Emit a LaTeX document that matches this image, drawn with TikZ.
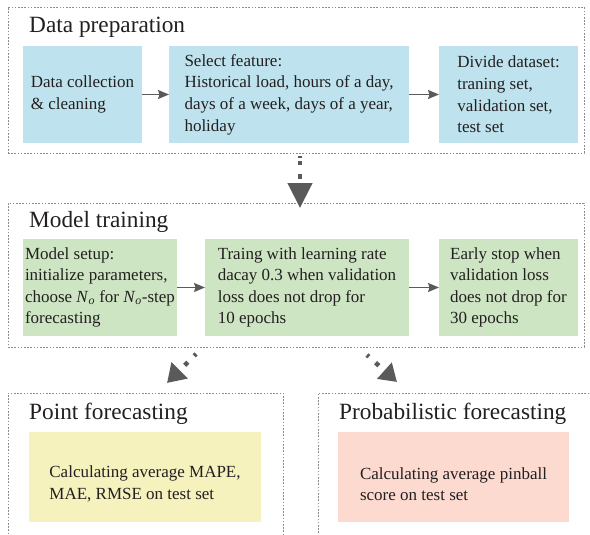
\documentclass[tikz,border=0pt]{standalone}
\usepackage{fontspec}
\setmainfont{Liberation Serif}
\usetikzlibrary{arrows.meta}

\definecolor{prepblue}{RGB}{190,227,238}
\definecolor{traingreen}{RGB}{205,229,195}
\definecolor{pointyellow}{RGB}{245,242,190}
\definecolor{probpink}{RGB}{252,218,208}
\definecolor{inkgray}{RGB}{35,31,32}
\definecolor{linkgray}{RGB}{90,90,90}

\newcommand{\No}{\textit{N}\textsubscript{\textit{o}}}
\newcommand{\lowstrut}{\rule{0pt}{26pt}}

\tikzset{
	panel/.style={draw=black!45, line width=0.9pt, dash pattern=on 1.6pt off 1.6pt, inner sep=0pt, outer sep=0pt},
	paneltitle/.style={anchor=base west, inner sep=0pt, text=inkgray, font=\fontsize{23.3}{28}\selectfont},
	stage/.style={inner sep=0pt, outer sep=0pt, align=left, text=inkgray, font=\fontsize{17}{21.6}\selectfont},
	link/.style={draw=linkgray, line width=1.5pt, -{Stealth[length=11pt 0,width=9pt 0,inset=1.5pt]}},
	bigdots/.style={draw=linkgray, line width=4.5pt, dash pattern=#1}
}

\begin{document}
\begin{tikzpicture}[x=1pt,y=-1pt]
	\clip (0,0) rectangle (590,535);

	% dashed panels
	\node[panel, minimum width=576pt, minimum height=146pt] (prep) at (296,80) {};
	\node[panel, minimum width=576pt, minimum height=144pt] (train) at (296,275) {};
	\node[panel, minimum width=275pt, minimum height=152pt] (point) at (145.5,469) {};
	\node[panel, minimum width=282pt, minimum height=152pt] (prob) at (459,469) {};

	\node[paneltitle] (preptitle) at (29,33) {Data preparation};
	\node[paneltitle] (traintitle) at (29,227) {Model training};
	\node[paneltitle] (pointtitle) at (29,419) {Point forecasting};
	\node[paneltitle] (probtitle) at (339,419) {Probabilistic forecasting};

	% data preparation
	\node[stage, fill=prepblue, minimum width=119pt, minimum height=97pt] (collect) at (82.5,94.5) {Data collection\\\& cleaning};
	\node[stage, fill=prepblue, minimum width=240pt, minimum height=97pt] (feature) at (289,94.5) {Select feature:\\Historical load, hours of a day,\\days of a week, days of a year,\\holiday};
	\node[stage, fill=prepblue, minimum width=139pt, minimum height=97pt] (divide) at (508.5,94.5) {Divide dataset:\\traning set,\\validation set,\\test set};
	\draw[link] (collect) -- (feature);
	\draw[link] (feature) -- (divide);

	% model training
	\node[stage, fill=traingreen, minimum width=154pt, minimum height=97pt] (setup) at (100,287.5) {Model setup:\\initialize parameters,\\choose \No{} for \No-step\\forecasting};
	\node[stage, fill=traingreen, minimum width=204pt, minimum height=97pt] (decay) at (307,287.5) {Traing with learning rate\\dacay 0.3 when validation\\loss does not drop for\\10 epochs};
	\node[stage, fill=traingreen, minimum width=139pt, minimum height=97pt] (stop) at (508.5,287.5) {Early stop when\\validation loss\\does not drop for\\30 epochs};
	\draw[link] (setup) -- (decay);
	\draw[link] (decay) -- (stop);

	% evaluation
	\node[stage, fill=pointyellow, minimum width=232pt, minimum height=90pt] (pointeval) at (145,477) {\lowstrut Calculating average MAPE,\\MAE, RMSE on test set};
	\node[stage, fill=probpink, minimum width=231pt, minimum height=90pt] (probeval) at (453.5,477) {\lowstrut Calculating average pinball\\score on test set};

	% dotted arrows between panels
	\coordinate (prepout) at (300,156);
	\coordinate (trainin) at (300,208);
	\coordinate (pointout) at (196,354);
	\coordinate (pointin) at (167,383);
	\coordinate (probout) at (367,355);
	\coordinate (probin) at (397,382);
	\draw[bigdots={on 2.5pt off 2.5pt on 4.5pt off 9pt on 4.5pt off 40pt}, -{Triangle[length=25pt 0,width=24pt 0]}] (prepout) -- (trainin);
	\draw[bigdots={on 2.5pt off 9pt on 4.5pt off 40pt}, -{Triangle[length=18pt 0,width=22pt 0]}] (pointout) -- (pointin);
	\draw[bigdots={on 2.5pt off 9pt on 4.5pt off 40pt}, -{Triangle[length=17pt 0,width=21pt 0]}] (probout) -- (probin);
\end{tikzpicture}
\end{document}
